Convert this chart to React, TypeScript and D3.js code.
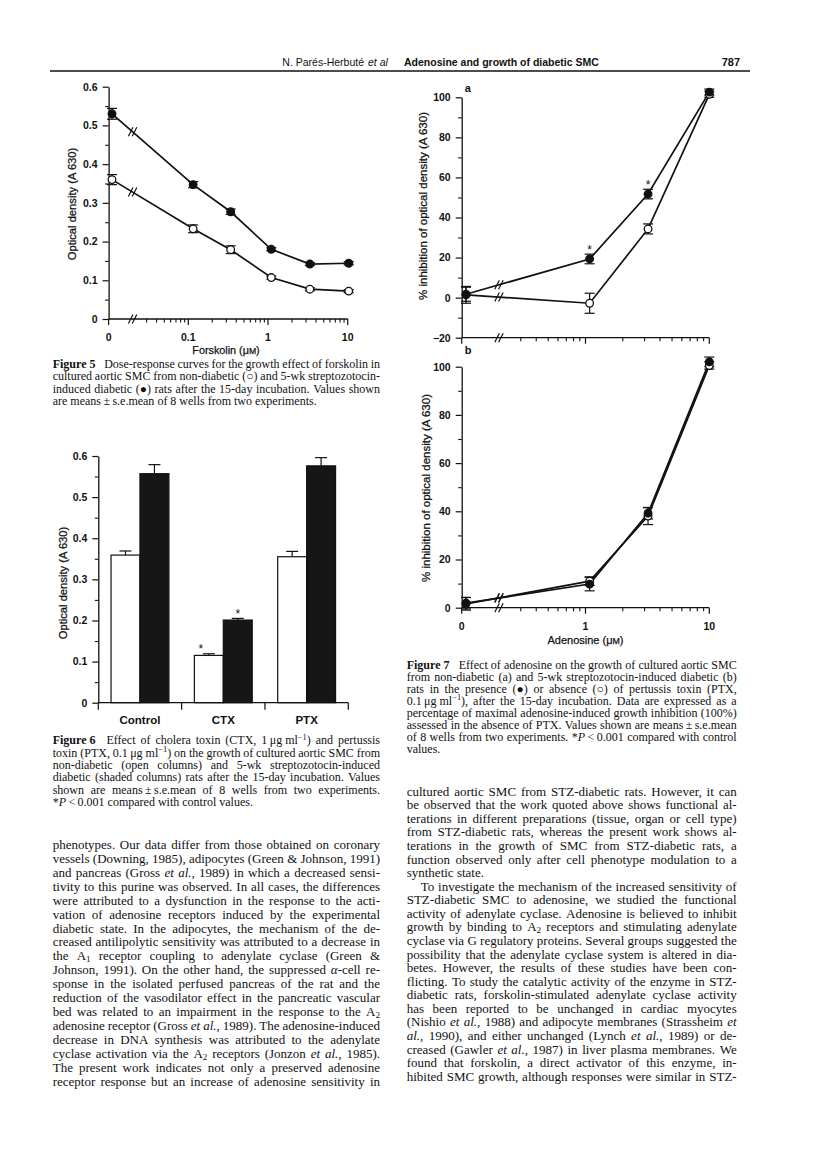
import React, { useEffect, useRef } from "react";
import * as d3 from "d3";

const INK = "#111";
const SERIF = '"Liberation Serif", "Times New Roman", serif';
const SANS = '"Liberation Sans", Arial, Helvetica, sans-serif';

// ---- Figure 5: forskolin dose-response (optical density)
const fig5Dose = [0, 0.115, 0.34, 1.1, 3.35, 10.3];
const fig5Diabetic = [0.53, 0.347, 0.277, 0.18, 0.142, 0.144];
const fig5DiabeticErr = [0.014, 0.008, 0.007, 0.004, 0.004, 0.004];
const fig5NonDiabetic = [0.36, 0.233, 0.179, 0.107, 0.077, 0.072];
const fig5NonDiabeticErr = [0.013, 0.01, 0.01, 0.004, 0.004, 0.004];
const fig5YTicks = [0, 0.1, 0.2, 0.3, 0.4, 0.5, 0.6];
const fig5YLabels = ["0", "0.1", "0.2", "0.3", "0.4", "0.5", "0.6"];
const fig5XTicks = [0, 0.1, 1, 10];
const fig5XLabels = ["0", "0.1", "1", "10"];

// ---- Figure 6: toxins, open = non-diabetic, shaded = diabetic
const fig6Groups = ["Control", "CTX", "PTX"];
const fig6Open = [0.359, 0.115, 0.355];
const fig6OpenErr = [0.01, 0.004, 0.013];
const fig6Shaded = [0.557, 0.201, 0.576];
const fig6ShadedErr = [0.022, 0.004, 0.02];
const fig6Sig = [false, true, false];
const fig6YTicks = [0, 0.1, 0.2, 0.3, 0.4, 0.5, 0.6];
const fig6YLabels = ["0", "0.1", "0.2", "0.3", "0.4", "0.5", "0.6"];

// ---- Figure 7: adenosine, % inhibition
const fig7Dose = [0, 1.08, 3.2, 10];
const fig7aPTX = [1.7, 19.3, 51.7, 102.6];
const fig7aPTXErr = [3.5, 2.4, 2.4, 1.5];
const fig7aPTXSig = [false, true, true, false];
const fig7aNoPTX = [1.4, -2.8, 34.3, 101.5];
const fig7aNoPTXErr = [4.2, 5, 2.5, 1.5];
const fig7bPTX = [1.9, 9.8, 39.2, 102];
const fig7bPTXErr = [2.4, 2.8, 2.4, 2];
const fig7bNoPTX = [1.6, 11.0, 38.0, 100.5];
const fig7bNoPTXErr = [2.6, 1.8, 3.5, 1.5];
const fig7aYTicks = [-20, 0, 20, 40, 60, 80, 100];
const fig7aYLabels = ["\u221220", "0", "20", "40", "60", "80", "100"];
const fig7bYTicks = [0, 20, 40, 60, 80, 100];
const fig7bYLabels = ["0", "20", "40", "60", "80", "100"];
const fig7XTicks = [0, 1, 10];
const fig7XLabels = ["0", "1", "10"];

// ---- page text (~ italic, § bold, _{} sub, ^{} sup, trailing | = ragged, leading > = indent)
const fig5Caption = [
  "§Figure\u00a05§\u2002 Dose-response curves for the growth effect of forskolin in",
  "cultured aortic SMC from non-diabetic (\u25cb) and 5-wk streptozotocin-",
  "induced diabetic (\u25cf) rats after the 15-day incubation. Values shown",
  "are means\u2009\u00b1\u2009s.e.mean of 8 wells from two experiments.|",
];
const fig6Caption = [
  "§Figure\u00a06§\u2002 Effect of cholera toxin (CTX, 1\u2009\u03bcg\u00a0ml^{\u22121}) and pertussis",
  "toxin (PTX, 0.1\u2009\u03bcg\u00a0ml^{\u22121}) on the growth of cultured aortic SMC from",
  "non-diabetic (open columns) and 5-wk streptozotocin-induced",
  "diabetic (shaded columns) rats after the 15-day incubation. Values",
  "shown are means\u2009\u00b1\u2009s.e.mean of 8 wells from two experiments.",
  "*~P~\u2009<\u20090.001 compared with control values.|",
];
const fig7Caption = [
  "§Figure\u00a07§\u2002 Effect of adenosine on the growth of cultured aortic SMC",
  "from non-diabetic (a) and 5-wk streptozotocin-induced diabetic (b)",
  "rats in the presence (\u25cf) or absence (\u25cb) of pertussis toxin (PTX,",
  "0.1\u2009\u03bcg\u00a0ml^{\u22121}), after the 15-day incubation. Data are expressed as a",
  "percentage of maximal adenosine-induced growth inhibition (100%)",
  "assessed in the absence of PTX. Values shown are means\u2009\u00b1\u2009s.e.mean",
  "of 8 wells from two experiments. *~P~\u2009<\u20090.001 compared with control",
  "values.|",
];
const leftBody = [
  "phenotypes. Our data differ from those obtained on coronary",
  "vessels (Downing, 1985), adipocytes (Green & Johnson, 1991)",
  "and pancreas (Gross ~et al.~, 1989) in which a decreased sensi-",
  "tivity to this purine was observed. In all cases, the differences",
  "were attributed to a dysfunction in the response to the acti-",
  "vation of adenosine receptors induced by the experimental",
  "diabetic state. In the adipocytes, the mechanism of the de-",
  "creased antilipolytic sensitivity was attributed to a decrease in",
  "the A_{1} receptor coupling to adenylate cyclase (Green &",
  "Johnson, 1991). On the other hand, the suppressed ~\u03b1~-cell re-",
  "sponse in the isolated perfused pancreas of the rat and the",
  "reduction of the vasodilator effect in the pancreatic vascular",
  "bed was related to an impairment in the response to the A_{2}",
  "adenosine receptor (Gross ~et al.~, 1989). The adenosine-induced",
  "decrease in DNA synthesis was attributed to the adenylate",
  "cyclase activation via the A_{2} receptors (Jonzon ~et al.~, 1985).",
  "The present work indicates not only a preserved adenosine",
  "receptor response but an increase of adenosine sensitivity in",
];
const rightBody = [
  "cultured aortic SMC from STZ-diabetic rats. However, it can",
  "be observed that the work quoted above shows functional al-",
  "terations in different preparations (tissue, organ or cell type)",
  "from STZ-diabetic rats, whereas the present work shows al-",
  "terations in the growth of SMC from STZ-diabetic rats, a",
  "function observed only after cell phenotype modulation to a",
  "synthetic state.|",
  ">To investigate the mechanism of the increased sensitivity of",
  "STZ-diabetic SMC to adenosine, we studied the functional",
  "activity of adenylate cyclase. Adenosine is believed to inhibit",
  "growth by binding to A_{2} receptors and stimulating adenylate",
  "cyclase via G regulatory proteins. Several groups suggested the",
  "possibility that the adenylate cyclase system is altered in dia-",
  "betes. However, the results of these studies have been con-",
  "flicting. To study the catalytic activity of the enzyme in STZ-",
  "diabetic rats, forskolin-stimulated adenylate cyclase activity",
  "has been reported to be unchanged in cardiac myocytes",
  "(Nishio ~et al.~, 1988) and adipocyte membranes (Strassheim ~et~",
  "~al.~, 1990), and either unchanged (Lynch ~et al.~, 1989) or de-",
  "creased (Gawler ~et al.~, 1987) in liver plasma membranes. We",
  "found that forskolin, a direct activator of this enzyme, in-",
  "hibited SMC growth, although responses were similar in STZ-",
];

// ---------- text helpers
const ctx = document.createElement("canvas").getContext("2d") as CanvasRenderingContext2D;

function runFont(r: any, size: number) {
  const s = r.shift ? size * 0.7 : size;
  return `${r.italic ? "italic " : ""}${r.bold ? "bold " : ""}${s}px ${SERIF}`;
}
function runWidth(r: any, size: number) {
  ctx.font = runFont(r, size);
  return ctx.measureText(r.text).width;
}

function parseWords(line: string, state: any) {
  return line.split(" ").filter((w) => w.length).map((w) => {
    const runs: any[] = [];
    let buf = "";
    const flush = () => {
      if (buf) runs.push({ text: buf, italic: state.italic, bold: state.bold, shift: "" });
      buf = "";
    };
    let i = 0;
    while (i < w.length) {
      const c = w[i];
      if (c === "~") { flush(); state.italic = !state.italic; i++; }
      else if (c === "§") { flush(); state.bold = !state.bold; i++; }
      else if ((c === "_" || c === "^") && w[i + 1] === "{") {
        flush();
        const end = w.indexOf("}", i);
        runs.push({ text: w.slice(i + 2, end), italic: state.italic, bold: state.bold, shift: c === "_" ? "sub" : "sup" });
        i = end + 1;
      } else { buf += c; i++; }
    }
    flush();
    return runs;
  });
}

function drawLines(g: any, lines: string[], x0: number, x1: number, yFirst: number, dy: number, size: number, indent = 0) {
  const state = { italic: false, bold: false };
  ctx.font = `${size}px ${SERIF}`;
  const space = ctx.measureText(" ").width;
  lines.forEach((raw, li) => {
    let line = raw;
    let ragged = false;
    let ind = 0;
    if (line.endsWith("|")) { ragged = true; line = line.slice(0, -1); }
    if (line.startsWith(">")) { ind = indent; line = line.slice(1); }
    const words = parseWords(line, state);
    const widths = words.map((w: any[]) => d3.sum(w, (r: any) => runWidth(r, size)));
    const total = d3.sum(widths);
    const gap = ragged || words.length < 2 ? space : (x1 - x0 - ind - total) / (words.length - 1);
    const y = yFirst + li * dy;
    const t = g.append("text").attr("font-family", SERIF).attr("font-size", size)
      .attr("fill", INK).style("white-space", "pre");
    let x = x0 + ind;
    words.forEach((w: any[]) => {
      w.forEach((r) => {
        const sy = r.shift === "sub" ? size * 0.14 : r.shift === "sup" ? -size * 0.36 : 0;
        const ts = t.append("tspan").attr("x", x).attr("y", y + sy).text(r.text);
        if (r.italic) ts.attr("font-style", "italic");
        if (r.bold) ts.attr("font-weight", "bold");
        if (r.shift) ts.attr("font-size", size * 0.7);
        x += runWidth(r, size);
      });
      x += gap;
    });
  });
}

// ---------- chart helpers
function slash(g: any, x: number, y: number) {
  [-1.9, 1.9].forEach((dx) =>
    g.append("line")
      .attr("x1", x + dx - 2.3).attr("y1", y + 4.5)
      .attr("x2", x + dx + 2.3).attr("y2", y - 4.5)
      .attr("stroke", INK).attr("stroke-width", 1.2));
}

function yAxis(g: any, axisX: number, y: any, ticks: number[], labels: string[], minor: number[], fs: number) {
  const maj = g.append("g").attr("transform", `translate(${axisX},0)`)
    .call(d3.axisLeft(y).tickValues(ticks).tickSize(6).tickSizeOuter(0).tickPadding(5)
      .tickFormat((_d: any, i: number) => labels[i]));
  maj.select(".domain").attr("stroke", INK).attr("stroke-width", 1.3);
  maj.selectAll(".tick line").attr("stroke", INK).attr("stroke-width", 1.2);
  maj.selectAll(".tick text").attr("font-family", SANS).attr("font-size", fs)
    .attr("font-weight", "bold").attr("fill", INK);
  const mn = g.append("g").attr("transform", `translate(${axisX},0)`)
    .call(d3.axisLeft(y).tickValues(minor).tickSize(3.5).tickFormat(() => ""));
  mn.select(".domain").remove();
  mn.selectAll(".tick line").attr("stroke", INK).attr("stroke-width", 1.1);
}

function star(g: any, x: number, yTop: number) {
  g.append("text").attr("x", x).attr("y", yTop - 0.5).attr("text-anchor", "middle")
    .attr("font-family", SANS).attr("font-size", 12).attr("fill", INK).text("*");
}

function doseChart(g: any, o: any) {
  const px = (d: number) => (d === 0 ? o.axisX + o.zeroOffset : o.x(d));
  const yBase = o.y(o.y.domain()[0]);
  yAxis(g, o.axisX, o.y, o.yTicks, o.yLabels, o.yMinor, o.fs);

  // x axis
  g.append("line").attr("x1", o.axisX).attr("x2", o.x(o.x.domain()[1]))
    .attr("y1", yBase).attr("y2", yBase).attr("stroke", INK).attr("stroke-width", 1.3);
  g.selectAll(null).data(o.xTicks).join("line")
    .attr("x1", (d: number) => (d === 0 ? o.axisX : o.x(d))).attr("x2", (d: number) => (d === 0 ? o.axisX : o.x(d)))
    .attr("y1", yBase).attr("y2", yBase + 6).attr("stroke", INK).attr("stroke-width", 1.2);
  g.selectAll(null).data(o.xMinor).join("line")
    .attr("x1", (d: number) => o.x(d)).attr("x2", (d: number) => o.x(d))
    .attr("y1", yBase).attr("y2", yBase + 3.5).attr("stroke", INK).attr("stroke-width", 1.1);
  if (o.xLabels) {
    g.selectAll(null).data(o.xTicks).join("text")
      .attr("x", (d: number) => (d === 0 ? o.axisX : o.x(d))).attr("y", yBase + 22)
      .attr("text-anchor", "middle").attr("font-family", SANS).attr("font-size", o.fs)
      .attr("font-weight", "bold").attr("fill", INK)
      .text((_d: any, i: number) => o.xLabels[i]);
  }
  slash(g, o.breakX, yBase);

  const line = d3.line<number>().x((d, i) => px(o.dose[i])).y((d) => o.y(d));
  o.series.forEach((s: any) => {
    g.append("path").attr("d", line(s.vals)).attr("fill", "none")
      .attr("stroke", INK).attr("stroke-width", 1.7);
    const x0 = px(o.dose[0]), x1 = px(o.dose[1]);
    const y0 = o.y(s.vals[0]), y1 = o.y(s.vals[1]);
    slash(g, o.breakX, y0 + ((o.breakX - x0) / (x1 - x0)) * (y1 - y0));
  });
  o.series.forEach((s: any) => {
    s.vals.forEach((v: number, i: number) => {
      const x = px(o.dose[i]);
      const yt = o.y(v + s.errs[i]), yb = o.y(v - s.errs[i]);
      g.append("line").attr("x1", x).attr("x2", x).attr("y1", yt).attr("y2", yb)
        .attr("stroke", INK).attr("stroke-width", 1.2);
      [yt, yb].forEach((yy) => g.append("line").attr("x1", x - 5).attr("x2", x + 5)
        .attr("y1", yy).attr("y2", yy).attr("stroke", INK).attr("stroke-width", 1.2));
      if (s.sig && s.sig[i]) star(g, x, yt);
    });
  });
  o.series.forEach((s: any) => {
    g.selectAll(null).data(s.vals).join("circle")
      .attr("cx", (_d: number, i: number) => px(o.dose[i])).attr("cy", (d: number) => o.y(d))
      .attr("r", 3.8).attr("fill", s.filled ? INK : "#fff")
      .attr("stroke", INK).attr("stroke-width", 1.3);
  });
}

function logMinor(lo: number, hi: number, start: number) {
  const out: number[] = [];
  for (let dec = lo; dec < hi; dec *= 10) {
    for (let k = 2; k <= 9; k++) if (dec * k >= start) out.push(dec * k);
  }
  return out;
}

function rotLabel(g: any, cx: number, cy: number, text: string, size: number) {
  g.append("text").attr("transform", `translate(${cx + size * 0.36},${cy}) rotate(-90)`)
    .attr("text-anchor", "middle").attr("font-family", SANS).attr("font-size", size)
    .attr("fill", INK).attr("stroke", INK).attr("stroke-width", 0.25).text(text);
}

function unitLabel(g: any, cx: number, y: number, name: string, size: number) {
  const t = g.append("text").attr("x", cx).attr("y", y).attr("text-anchor", "middle")
    .attr("font-family", SANS).attr("font-size", size).attr("fill", INK)
    .attr("stroke", INK).attr("stroke-width", 0.25);
  t.append("tspan").text(`${name} (\u03bc`);
  t.append("tspan").attr("font-size", size * 0.8).text("M");
  t.append("tspan").text(")");
}

// ---------- figures
function drawHeader(svg: any) {
  const g = svg.append("g");
  g.append("text").attr("x", 364).attr("y", 66).attr("text-anchor", "end")
    .attr("font-family", SANS).attr("font-size", 10.5).attr("fill", INK)
    .text("N. Par\u00e9s-Herbut\u00e9");
  g.append("text").attr("x", 368).attr("y", 66).attr("font-family", SANS)
    .attr("font-size", 10.5).attr("font-style", "italic").attr("fill", INK).text("et al");
  g.append("text").attr("x", 404).attr("y", 66).attr("font-family", SANS).attr("font-size", 10.5)
    .attr("font-weight", "bold").attr("fill", INK)
    .text("Adenosine and growth of diabetic SMC");
  g.append("text").attr("x", 740).attr("y", 66).attr("text-anchor", "end")
    .attr("font-family", SANS).attr("font-size", 11)
    .attr("font-weight", "bold").attr("fill", INK).text("787");
  g.append("line").attr("x1", 50).attr("x2", 750).attr("y1", 71).attr("y2", 71)
    .attr("stroke", INK).attr("stroke-width", 1.3);
}

function drawFig5(svg: any) {
  const g = svg.append("g");
  const x = d3.scaleLog().domain([0.1, 10]).range([188.3, 347.7]);
  const y = d3.scaleLinear().domain([0, 0.6]).range([319, 86.7]);
  const axisX = x(0.1) - (x(1) - x(0.1));
  doseChart(g, {
    x, y, axisX, zeroOffset: 3.4, breakX: x(0.02), fs: 10.5,
    dose: fig5Dose,
    yTicks: fig5YTicks, yLabels: fig5YLabels,
    yMinor: [0.05, 0.15, 0.25, 0.35, 0.45, 0.55],
    xTicks: fig5XTicks, xLabels: fig5XLabels,
    xMinor: logMinor(0.01, 10, 0.03),
    series: [
      { vals: fig5NonDiabetic, errs: fig5NonDiabeticErr, filled: false },
      { vals: fig5Diabetic, errs: fig5DiabeticErr, filled: true },
    ],
  });
  rotLabel(g, 71.7, 204, "Optical density (A 630)", 11.2);
  unitLabel(g, 226, 354, "Forskolin", 10.8);
}

function drawFig6(svg: any) {
  const g = svg.append("g");
  const y = d3.scaleLinear().domain([0, 0.6]).range([702.7, 456]);
  const xg = d3.scaleBand().domain(fig6Groups).range([98.3, 348.3]);
  const xs = d3.scaleBand().domain(["open", "shaded"]).range([0, xg.bandwidth()]).paddingOuter(0.44);
  const bw = xs.bandwidth();

  const bars = [
    { key: "open", vals: fig6Open, errs: fig6OpenErr, fill: "#fff", sig: fig6Sig, starDx: -8 },
    { key: "shaded", vals: fig6Shaded, errs: fig6ShadedErr, fill: "#161616", sig: fig6Sig, starDx: 0 },
  ];
  bars.forEach((b) => {
    const cx = (i: number) => (xg(fig6Groups[i]) as number) + (xs(b.key) as number) + bw / 2;
    b.vals.forEach((v, i) => {
      const top = y(v + b.errs[i]);
      g.append("line").attr("x1", cx(i)).attr("x2", cx(i)).attr("y1", y(v)).attr("y2", top)
        .attr("stroke", INK).attr("stroke-width", 1.2);
      g.append("line").attr("x1", cx(i) - 6).attr("x2", cx(i) + 6).attr("y1", top).attr("y2", top)
        .attr("stroke", INK).attr("stroke-width", 1.2);
      if (b.sig[i]) star(g, cx(i) + b.starDx, top);
    });
    g.selectAll(null).data(b.vals).join("rect")
      .attr("x", (_d: number, i: number) => cx(i) - bw / 2).attr("width", bw)
      .attr("y", (d: number) => y(d)).attr("height", (d: number) => y(0) - y(d))
      .attr("fill", b.fill).attr("stroke", INK).attr("stroke-width", 1.2);
  });

  yAxis(g, 98.3, y, fig6YTicks, fig6YLabels, [0.05, 0.15, 0.25, 0.35, 0.45, 0.55], 10.5);
  const edges = fig6Groups.map((c) => xg(c) as number).concat([xg.range()[1]]);
  g.append("line").attr("x1", 98.3).attr("x2", xg.range()[1]).attr("y1", y(0)).attr("y2", y(0))
    .attr("stroke", INK).attr("stroke-width", 1.3);
  g.selectAll(null).data(edges).join("line")
    .attr("x1", (d: number) => d).attr("x2", (d: number) => d)
    .attr("y1", y(0)).attr("y2", y(0) + 7).attr("stroke", INK).attr("stroke-width", 1.2);
  g.selectAll(null).data(fig6Groups).join("text")
    .attr("x", (d: string) => (xg(d) as number) + (xs("shaded") as number))
    .attr("y", y(0) + 21).attr("text-anchor", "middle").attr("font-family", SANS)
    .attr("font-size", 11.5).attr("font-weight", "bold").attr("fill", INK).text((d: string) => d);
  rotLabel(g, 63.3, 583, "Optical density (A 630)", 11.2);
}

function drawFig7(svg: any) {
  const g = svg.append("g");
  const x = d3.scaleLog().domain([1, 10]).range([585.5, 709.3]);
  const axisX = x(1) - (x(10) - x(1));
  const ya = d3.scaleLinear().domain([-20, 100]).range([337.7, 97.3]);
  const yb = d3.scaleLinear().domain([0, 100]).range([607.7, 366.7]);
  const common = {
    x, axisX, zeroOffset: 4.3, breakX: x(0.2), fs: 10.5, dose: fig7Dose,
    xTicks: fig7XTicks, xMinor: logMinor(0.1, 10, 0.3),
  };
  doseChart(g, {
    ...common, y: ya, yTicks: fig7aYTicks, yLabels: fig7aYLabels,
    yMinor: [-10, 10, 30, 50, 70, 90], xLabels: null,
    series: [
      { vals: fig7aNoPTX, errs: fig7aNoPTXErr, filled: false },
      { vals: fig7aPTX, errs: fig7aPTXErr, filled: true, sig: fig7aPTXSig },
    ],
  });
  doseChart(g, {
    ...common, y: yb, yTicks: fig7bYTicks, yLabels: fig7bYLabels,
    yMinor: [10, 30, 50, 70, 90], xLabels: fig7XLabels,
    series: [
      { vals: fig7bNoPTX, errs: fig7bNoPTXErr, filled: false },
      { vals: fig7bPTX, errs: fig7bPTXErr, filled: true },
    ],
  });
  g.append("text").attr("x", axisX + 3).attr("y", 92).attr("font-family", SANS)
    .attr("font-size", 11).attr("font-weight", "bold").attr("fill", INK).text("a");
  g.append("text").attr("x", axisX + 3).attr("y", 354).attr("font-family", SANS)
    .attr("font-size", 11).attr("font-weight", "bold").attr("fill", INK).text("b");
  rotLabel(g, 423, 206, "% inhibition of optical density (A 630)", 11.5);
  rotLabel(g, 426, 488, "% inhibition of optical density (A 630)", 11.5);
  unitLabel(g, x(1), 643.5, "Adenosine", 11);
}

function drawText(svg: any) {
  const g = svg.append("g");
  drawLines(g, fig5Caption, 52.7, 380, 368, 12.3, 12);
  drawLines(g, fig6Caption, 52.7, 380, 744.2, 12.35, 12);
  drawLines(g, fig7Caption, 406.7, 736.7, 668.5, 12.05, 12);
  drawLines(g, leftBody, 52.7, 380, 849, 13.92, 13);
  drawLines(g, rightBody, 406.7, 736.7, 795.7, 13.57, 13, 14);
}

export default function App() {
  const ref = useRef<SVGSVGElement>(null);
  useEffect(() => {
    const svg = d3.select(ref.current);
    svg.selectAll("*").remove();
    drawHeader(svg);
    drawFig5(svg);
    drawFig6(svg);
    drawFig7(svg);
    drawText(svg);
  }, []);
  return (
    <svg ref={ref} width={816} height={1151}
      style={{ position: "absolute", left: 0, top: 0, background: "#fff" }} />
  );
}
